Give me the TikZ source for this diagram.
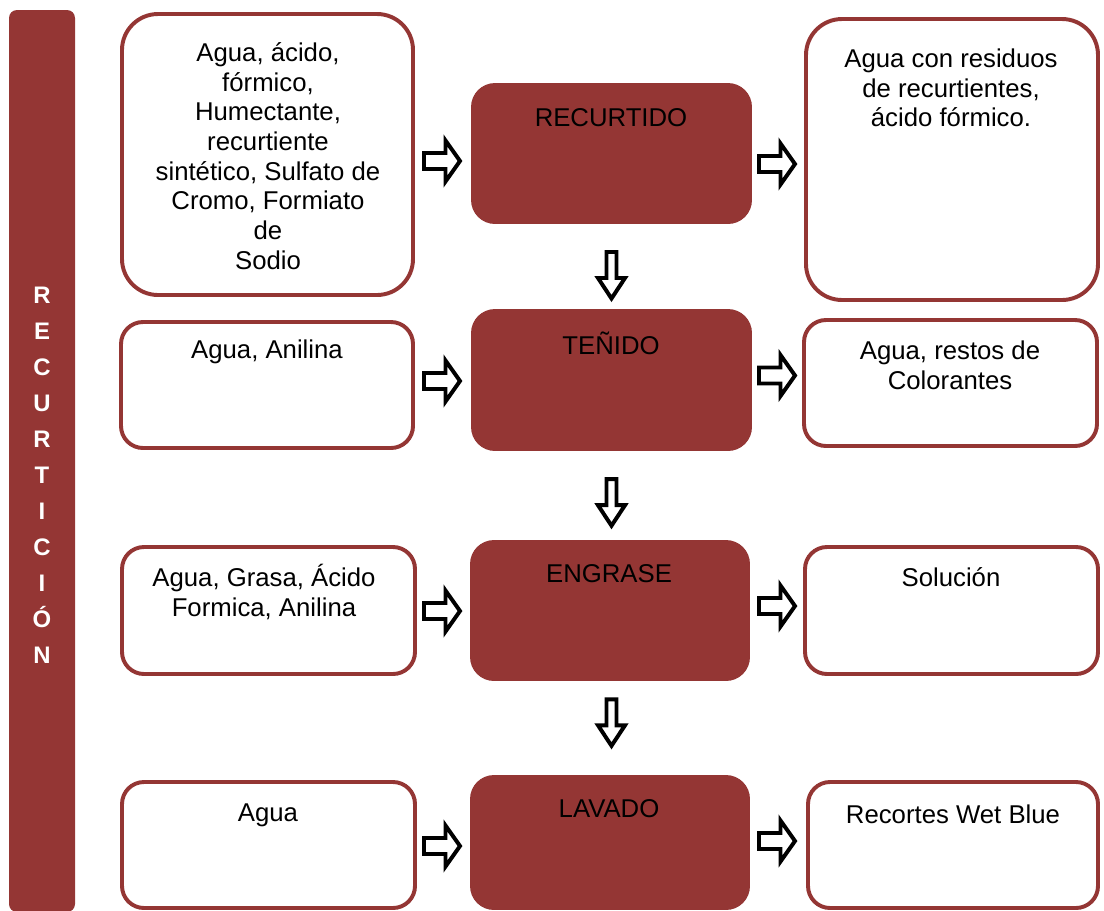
\documentclass[tikz,border=0pt]{standalone}
\usepackage{fontspec}
\setmainfont{Liberation Sans}
\usetikzlibrary{positioning, fit}
\definecolor{cuero}{HTML}{943634}
\tikzset{
    rarrow/.pic = {
    \draw[line width=2.8pt, line join=miter] (-18.5,-8) -- (3,-8) -- (3,-20.5) -- (17.5,0)
        -- (3,20.5) -- (3,8) -- (-18.5,8) -- cycle;
    },
    darrow/.pic = {
    \draw[line width=2.8pt, line join=miter] (-5,-22.5) -- (5,-22.5) -- (5,3.5) -- (13.5,3.5)
        -- (0,24) -- (-13.5,3.5) -- (-5,3.5) -- cycle;
    },
    sidebox/.style={draw=cuero, line width=2.8pt, fill=white, inner sep=0pt, rounded corners=0.55cm},
    bigbox/.style={sidebox, rounded corners=0.9cm},
    stepbox/.style={draw=cuero, fill=cuero, line width=2.8pt, inner sep=0pt, rounded corners=0.55cm},
    txt/.style={align=center, inner sep=0pt, font=\fontsize{18.3}{21.1}\selectfont},
}

\begin{document}
\begin{tikzpicture}[x=0.025cm, y=-0.025cm]
    \useasboundingbox (0,0) rectangle (1104,910);

    % bar on the left
    \node[fit={(9,10) (75,912)}, fill=cuero, inner sep=0pt, rounded corners=0.2cm] (bar) {};
    \node[txt, text=white, font=\fontsize{17}{25.6}\selectfont\bfseries] (bart) at (42,475)
        {R\\E\\C\\U\\R\\T\\I\\C\\I\\Ó\\N};

    % inputs
    \node[bigbox, fit={(122,14) (413,295)}] (in1) {};
    \node[sidebox, fit={(121,322) (413,448)}] (in2) {};
    \node[sidebox, fit={(122,547) (415,674)}] (in3) {};
    \node[sidebox, fit={(122,782) (415,908)}] (in4) {};

    \node[txt] (in1t) at (268,156) {Agua, ácido,\\fórmico,\\Humectante,\\recurtiente\\sintético, Sulfato de\\Cromo, Formiato\\de\\Sodio};
    \node[txt] (in2t) at (267,352) {Agua, Anilina};
    \node[txt] (in3t) at (264,592) {Agua, Grasa, Ácido\\Formica, Anilina};
    \node[txt] (in4t) at (268,815) {Agua};

    % process steps
    \node[stepbox, fit={(473,85) (750,222)}] (m1) {};
    \node[stepbox, fit={(473,311) (750,449)}] (m2) {};
    \node[stepbox, fit={(472,542) (748,679)}] (m3) {};
    \node[stepbox, fit={(472,777) (748,908)}] (m4) {};

    \node[txt] (m1t) at (611,118) {RECURTIDO};
    \node[txt] (m2t) at (611,343) {TEÑIDO};
    \node[txt] (m3t) at (609,574) {ENGRASE};
    \node[txt] (m4t) at (609,809) {LAVADO};

    % outputs
    \node[bigbox, fit={(806,19) (1098,300)}] (out1) {};
    \node[sidebox, fit={(804,320) (1097,446)}] (out2) {};
    \node[sidebox, fit={(805,547) (1098,674)}] (out3) {};
    \node[sidebox, fit={(808,782) (1098,908)}] (out4) {};

    \node[txt] (out1t) at (951,88) {Agua con residuos\\de recurtientes,\\ácido fórmico.};
    \node[txt] (out2t) at (950,365.5) {Agua, restos de\\Colorantes};
    \node[txt] (out3t) at (951,577) {Solución};
    \node[txt] (out4t) at (953,814) {Recortes Wet Blue};

    % arrows
    \pic at (442.5,161) {rarrow};
    \pic at (442.5,381) {rarrow};
    \pic at (442.5,611) {rarrow};
    \pic at (442.5,846) {rarrow};
    \pic at (777.5,164) {rarrow};
    \pic at (777.5,375.5) {rarrow};
    \pic at (777.5,606) {rarrow};
    \pic at (777.5,841) {rarrow};
    \pic at (611.5,274.5) {darrow};
    \pic at (611.5,501.7) {darrow};
    \pic at (611.5,721.8) {darrow};
\end{tikzpicture}
\end{document}
